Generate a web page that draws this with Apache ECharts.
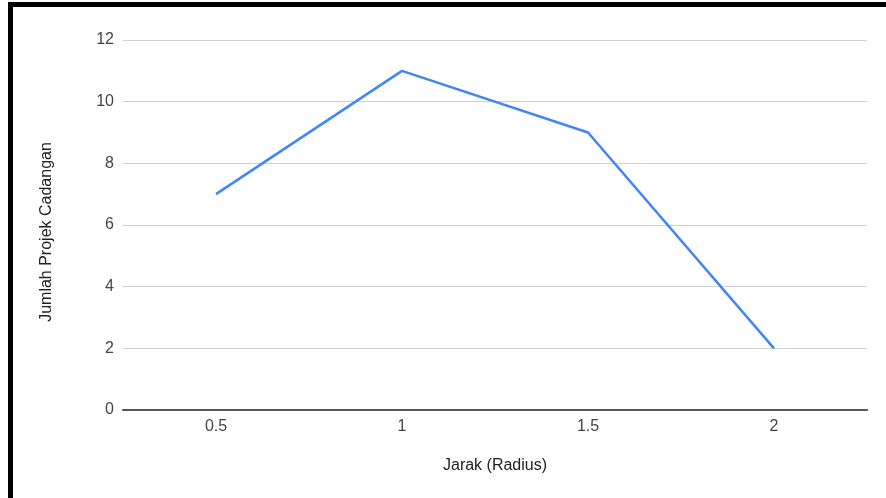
<!DOCTYPE html>
<html>
<head>
<meta charset="utf-8">
<script src="https://cdn.jsdelivr.net/npm/echarts@6/dist/echarts.min.js"></script>
<style>
  html, body { margin: 0; padding: 0; background: #fff; }
  #chart { width: 886px; height: 498px; }
</style>
</head>
<body>
<div id="chart"></div>
<script>
// Distance bands (radius) and number of proposed projects in each
const categories = ['0.5', '1', '1.5', '2'];
const projectCounts = [7, 11, 9, 2];

const chart = echarts.init(document.getElementById('chart'));
const font = '"Liberation Sans", Arial, sans-serif';

chart.setOption({
  animation: false,
  backgroundColor: '#fff',
  grid: { left: 123, right: 19, top: 40, bottom: 88 },
  xAxis: {
    type: 'category',
    data: categories,
    boundaryGap: true,
    name: 'Jarak (Radius)',
    nameLocation: 'middle',
    nameGap: 48,
    nameTextStyle: { fontFamily: font, fontSize: 16, color: '#222' },
    axisLine: { show: true, lineStyle: { color: '#555', width: 2 } },
    axisTick: { show: false },
    axisLabel: { fontFamily: font, fontSize: 16, color: '#444', margin: 9 }
  },
  yAxis: {
    type: 'value',
    min: 0,
    max: 12,
    interval: 2,
    name: 'Jumlah Projek Cadangan',
    nameLocation: 'middle',
    nameGap: 68,
    nameTextStyle: { fontFamily: font, fontSize: 16, color: '#222', padding: [0, 14, 0, 0] },
    axisLine: { show: false },
    axisTick: { show: false },
    axisLabel: { fontFamily: font, fontSize: 16, color: '#444', margin: 9 },
    splitLine: { lineStyle: { color: '#d0d0d0', width: 1 } }
  },
  series: [{
    type: 'line',
    data: projectCounts,
    symbol: 'none',
    lineStyle: { color: '#4285F4', width: 2.5 },
    itemStyle: { color: '#4285F4' }
  }],
  graphic: [
    // Frame: heavy black rule along the top and left edges
    { type: 'rect', left: 8, top: 2, shape: { width: 878, height: 5 }, style: { fill: '#000' } },
    { type: 'rect', left: 8, top: 2, shape: { width: 5, height: 496 }, style: { fill: '#000' } }
  ]
});
</script>
</body>
</html>
